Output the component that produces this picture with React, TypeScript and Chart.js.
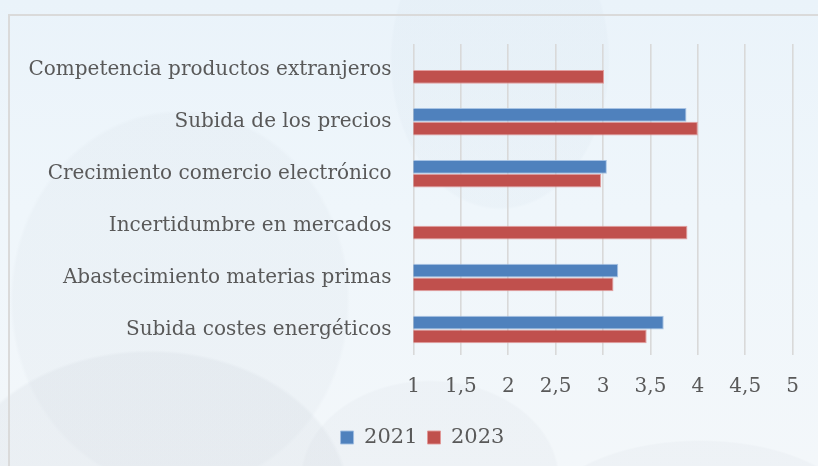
import React, { useEffect, useRef } from "react";
import { Chart, registerables } from "chart.js";

Chart.register(...registerables);

const categories = [
  "Competencia productos extranjeros",
  "Subida de los precios",
  "Crecimiento comercio electrónico",
  "Incertidumbre en mercados",
  "Abastecimiento materias primas",
  "Subida costes energéticos",
];
const series2021: (number | null)[] = [null, 3.88, 3.04, null, 3.16, 3.64];
const series2023: (number | null)[] = [3.01, 4.0, 2.98, 3.89, 3.11, 3.46];
const seriesLabels = ["2021", "2023"];
const xMin = 1;
const xMax = 5;
const xStep = 0.5;

const FONT = "'DejaVu Serif', serif";
const TEXT = "#595959";

const legendShift = {
  id: "legendShift",
  afterLayout(chart: any) {
    const lg = chart.legend;
    if (lg) {
      lg.left += 26;
      lg.right += 26;
    }
  },
};

export default function App() {
  const ref = useRef<HTMLCanvasElement | null>(null);

  useEffect(() => {
    const canvas = ref.current;
    if (!canvas) return;
    const chart = new Chart(canvas, {
      type: "bar",
      data: {
        labels: categories,
        datasets: [
          {
            label: seriesLabels[0],
            data: series2021,
            backgroundColor: "#4F81BD",
            borderColor: "rgba(160,190,225,0.9)",
            borderWidth: 1,
            borderSkipped: false,
          },
          {
            label: seriesLabels[1],
            data: series2023,
            backgroundColor: "#C0504D",
            borderColor: "rgba(225,150,150,0.9)",
            borderWidth: 1,
            borderSkipped: false,
          },
        ],
      },
      options: {
        indexAxis: "y",
        responsive: false,
        animation: false,
        devicePixelRatio: 1,
        layout: { padding: { top: 44, left: 0, right: 25, bottom: 8 } },
        datasets: {
          bar: { barPercentage: 1, categoryPercentage: 0.53 },
        },
        scales: {
          x: {
            min: xMin,
            max: xMax,
            border: { display: false },
            grid: { color: "#d9d9d9", lineWidth: 1.6, drawTicks: false },
            ticks: {
              stepSize: xStep,
              padding: 19,
              color: TEXT,
              font: { family: FONT, size: 20 },
              callback: (v: any) => String(v).replace(".", ","),
            },
            afterFit: (s: any) => {
              s.height = 61.6;
            },
          },
          y: {
            border: { display: false },
            grid: { display: false, drawTicks: false },
            ticks: {
              padding: 22,
              color: TEXT,
              font: { family: FONT, size: 20 },
            },
            afterFit: (s: any) => {
              s.width = 413.5;
            },
          },
        },
        plugins: {
          legend: {
            position: "bottom",
            labels: {
              boxWidth: 13,
              boxHeight: 13,
              padding: 10,
              color: TEXT,
              font: { family: FONT, size: 21 },
            },
          },
          tooltip: { enabled: false },
        },
      },
      plugins: [legendShift],
    });
    return () => chart.destroy();
  }, []);

  const bg =
    "radial-gradient(ellipse 200px 150px at 150px 500px, rgba(205,212,220,0.22) 0 98%, transparent 100%)," +
    "radial-gradient(ellipse 130px 100px at 430px 480px, rgba(210,216,224,0.16) 0 98%, transparent 100%)," +
    "radial-gradient(ellipse 170px 190px at 180px 300px, rgba(210,218,226,0.16) 0 98%, transparent 100%)," +
    "radial-gradient(ellipse 110px 150px at 500px 60px, rgba(214,226,236,0.18) 0 98%, transparent 100%)," +
    "radial-gradient(ellipse 160px 80px at 700px 520px, rgba(210,216,224,0.16) 0 98%, transparent 100%)," +
    "linear-gradient(180deg, #eaf3fa 0%, #eff6fb 45%, #f3f7fa 100%)";

  return (
    <div
      style={{
        position: "fixed",
        left: 0,
        top: 0,
        width: 818,
        height: 466,
        overflow: "hidden",
        background: bg,
      }}
    >
      <div
        style={{
          position: "absolute",
          left: 8,
          top: 14,
          width: 840,
          height: 480,
          border: "2px solid #dadada",
          boxSizing: "border-box",
        }}
      />
      <canvas
        ref={ref}
        width={818}
        height={466}
        style={{ position: "absolute", left: 0, top: 0 }}
      />
    </div>
  );
}
